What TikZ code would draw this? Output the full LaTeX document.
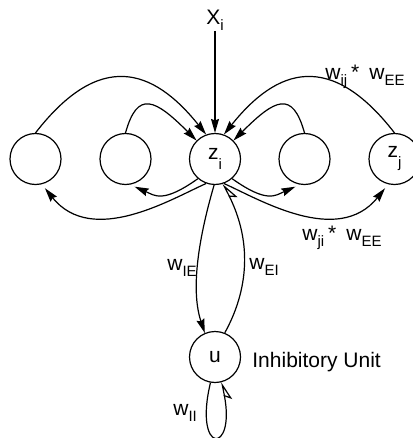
\documentclass[tikz,border=0pt]{standalone}
\usepackage{fontspec}
\setmainfont{Liberation Sans}
\usetikzlibrary{arrows.meta}
\newcommand\subtx[2][-3pt]{\raisebox{#1}{\fontsize{7.5}{8}\selectfont #2}}
\begin{document}
\begin{tikzpicture}[x=0.5pt,y=-0.5pt,
  unit/.style={circle,draw,line width=0.6pt,minimum size=25.5pt,inner sep=0pt,font=\fontsize{10.5}{12}\selectfont},
  lbl/.style={inner sep=0pt,anchor=base west,font=\fontsize{10.5}{12}\selectfont},
  edge/.style={line width=0.6pt,-{Stealth[length=7pt,width=4pt,inset=0.8pt]}},
  inhib/.style={line width=0.6pt,-{Stealth[open,harpoon,swap,length=8.5pt,width=7pt,inset=2pt]}},
  gap/.style={shorten >=2.5pt}]
\useasboundingbox (0,0) rectangle (412,438);
\node[unit] (n1) at (35.5,159) {};
\node[unit] (n2) at (125.5,159) {};
\node[unit] (zi) at (215,159) {z\subtx[-5pt]{i}};
\node[unit] (n4) at (304.5,159) {};
\node[unit] (zj) at (394.5,159) {z\subtx[-5pt]{j}};
\node[unit] (u) at (215,357) {u};
\node[inner sep=0pt,anchor=south,font=\fontsize{10.5}{12}\selectfont] (xi) at (215,31) {X\subtx{i}};
% top arcs
\draw[edge] (xi) -- (zi);
\draw[edge] (n1.90) .. controls (99.7,50) and (153,68) .. (zi.110);
\draw[edge] (n2.90) .. controls (137.5,89.8) and (155,99) .. (zi.135);
\draw[edge] (zj.90) .. controls (330.3,50) and (277,68) .. (zi.70);
\draw[edge] (n4.90) .. controls (292.5,89.8) and (275,99) .. (zi.45);
% bottom arcs
\draw[edge,gap] (zi.229) .. controls (162.6,203.7) and (154.7,195.5) .. (n2.-80);
\draw[edge,gap] (zi.250) .. controls (171.6,198.8) and (92.3,247) .. (n1.-76);
\draw[edge,gap] (zi.-49) .. controls (267.4,203.7) and (275.3,195.5) .. (n4.-100);
\draw[edge,gap] (zi.-70) .. controls (258.4,198.8) and (337.7,247) .. (zj.-104);
% inhibitory
\draw[edge] (zi.-92) .. controls (189.7,268.7) and (195.6,305.3) .. (u.113);
\draw[inhib] (u.68) .. controls (241.3,303.1) and (257.6,252.7) .. (zi.-72);
\draw[inhib] (u.-100) .. controls (193,455) and (236,455) .. (u.-75);
% labels
\node[lbl] (lij) at (325,80) {w\subtx{ij}\kern2pt*\kern5pt w\subtx{EE}};
\node[lbl] (lji) at (302,240) {w\subtx{ji}\kern2pt*\kern5pt w\subtx{EE}};
\node[lbl] (lie) at (167,270) {w\subtx{IE}};
\node[lbl] (lei) at (249,269) {w\subtx{EI}};
\node[lbl] (lii) at (173,415) {w\subtx{II}};
\node[lbl] (inh) at (252,367) {Inhibitory Unit};
\end{tikzpicture}
\end{document}
